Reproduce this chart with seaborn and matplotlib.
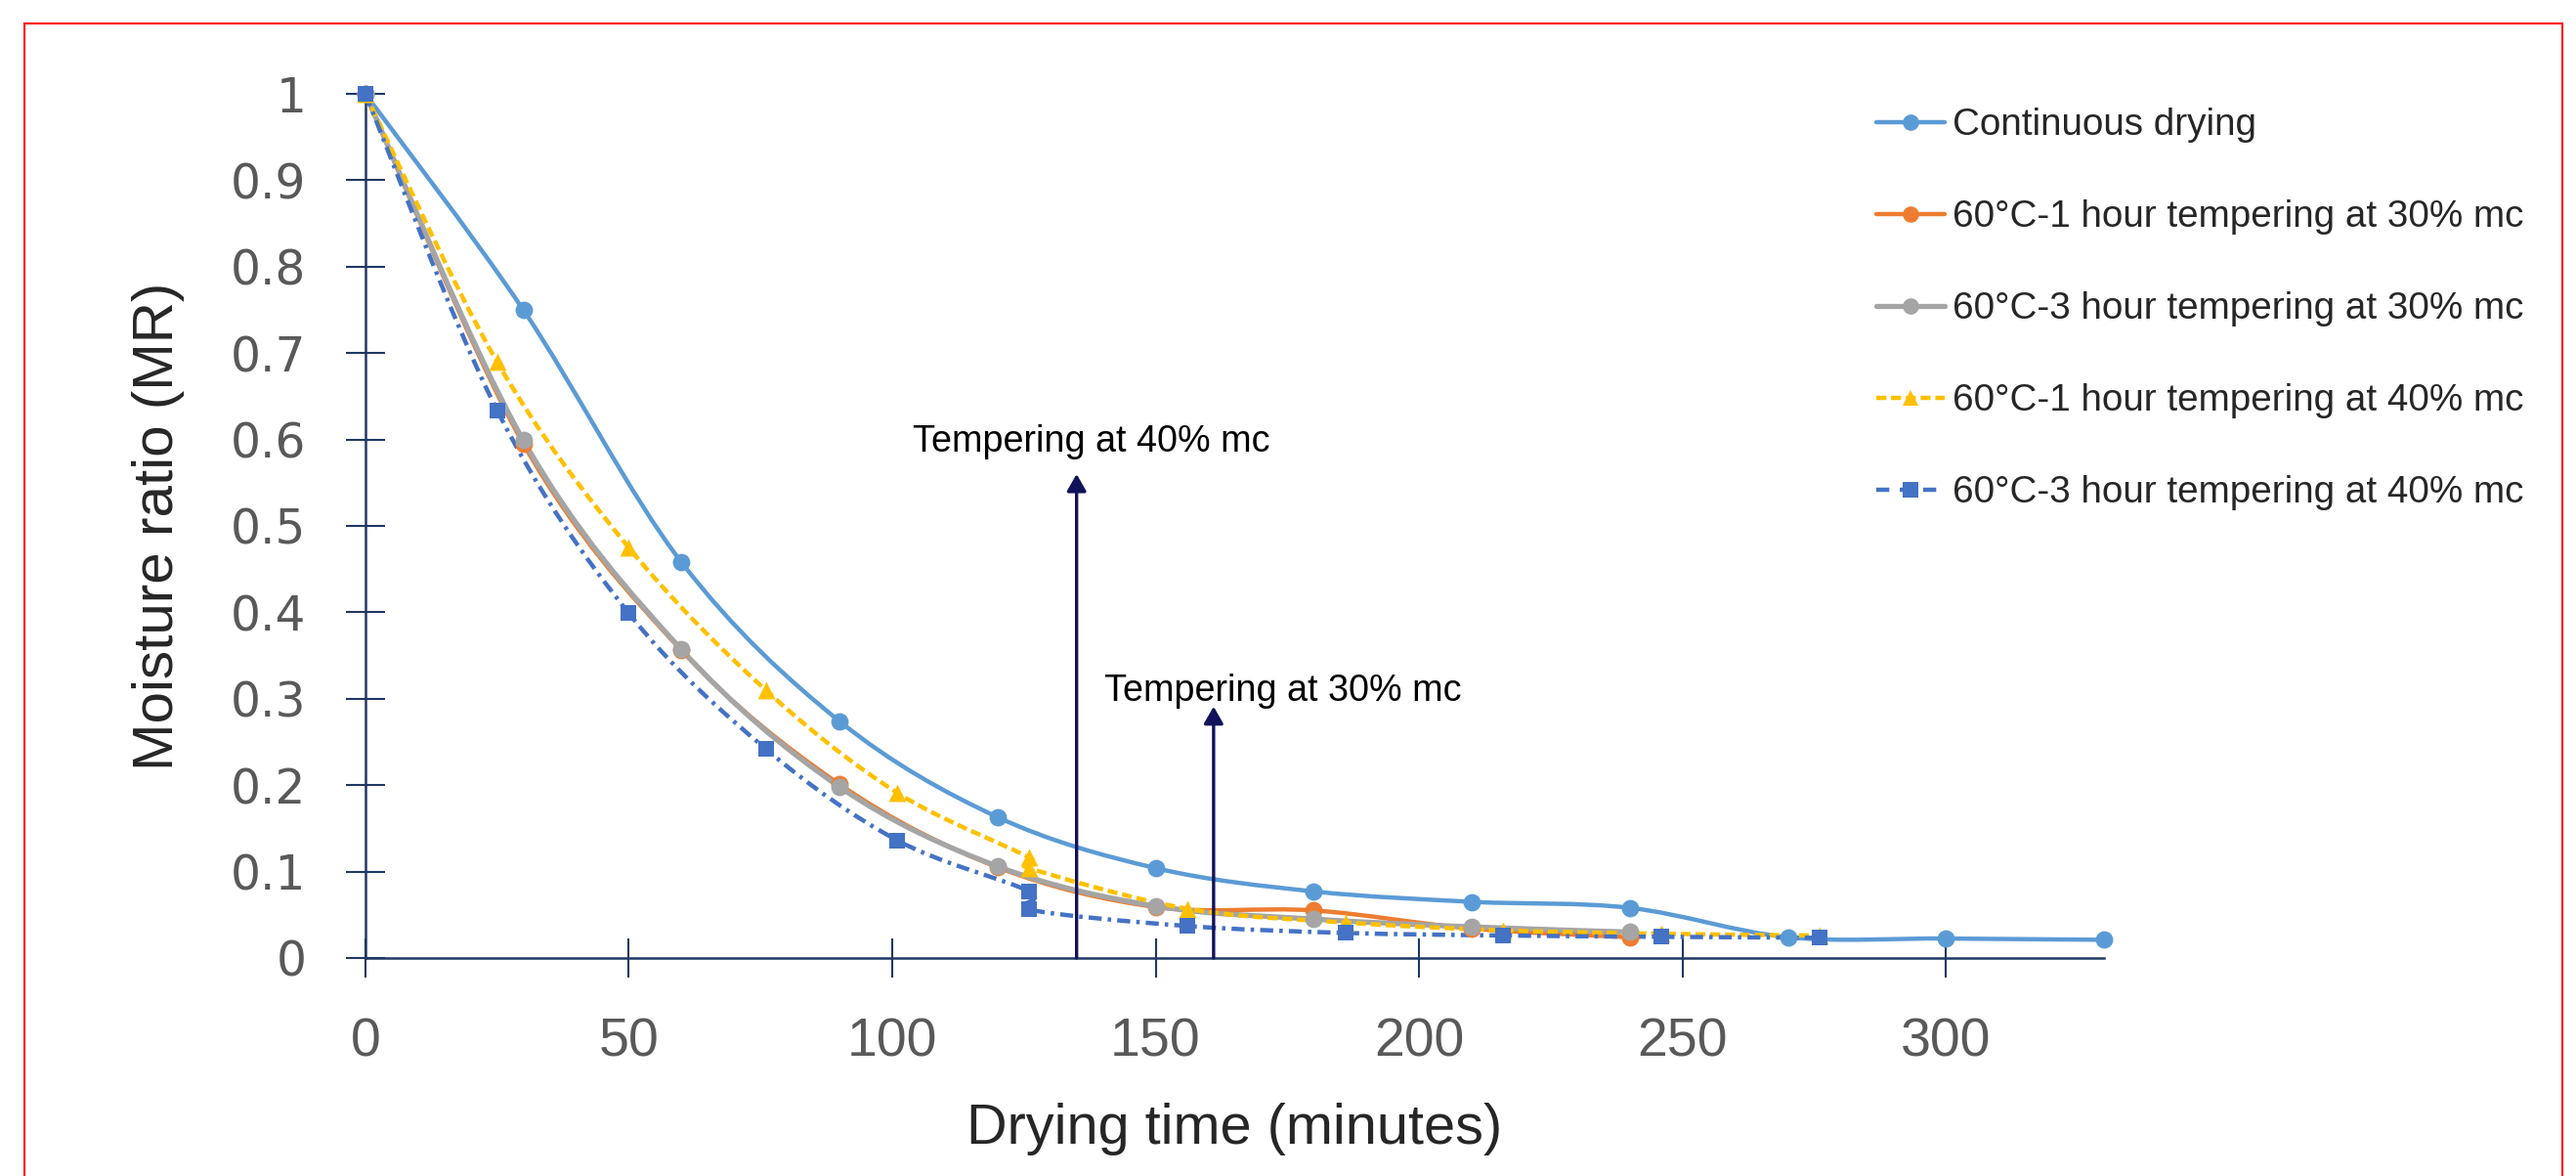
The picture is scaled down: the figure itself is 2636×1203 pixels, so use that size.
import numpy as np
import pandas as pd
import matplotlib
matplotlib.use('Agg')
import matplotlib.pyplot as plt
from matplotlib.path import Path
from matplotlib.patches import PathPatch, Rectangle
from matplotlib.lines import Line2D
import seaborn as sns

# dados
t_cont = [0, 30, 60, 90, 120, 150, 180, 210, 240, 270, 300, 330]
mr_cont = [1.0, 0.75, 0.458, 0.274, 0.163, 0.104, 0.077, 0.065, 0.058, 0.024, 0.0225, 0.021]

t_30 = [0, 30, 60, 90, 120, 150, 180, 210, 240]
mr_1h_30 = [1.0, 0.595, 0.356, 0.201, 0.105, 0.059, 0.055, 0.034, 0.024]
mr_3h_30 = [1.0, 0.599, 0.357, 0.198, 0.106, 0.060, 0.045, 0.036, 0.030]

t_40 = [0, 25, 50, 76, 101, 126, 126, 156, 186, 216, 246, 276]
mr_1h_40 = [1.0, 0.690, 0.475, 0.310, 0.191, 0.116, 0.104, 0.057, 0.041, 0.032, 0.028, 0.026]
mr_3h_40 = [1.0, 0.634, 0.399, 0.242, 0.136, 0.077, 0.056, 0.037, 0.029, 0.026, 0.0245, 0.0234]

nomes = ['Continuous drying',
         '60°C-1 hour tempering at 30% mc',
         '60°C-3 hour tempering at 30% mc',
         '60°C-1 hour tempering at 40% mc',
         '60°C-3 hour tempering at 40% mc']

setas_x = [135, 161]
setas_topo = [0.560, 0.291]
setas_texto = ['Tempering at 40% mc', 'Tempering at 30% mc']
texto_x = [137.8, 174.2]
texto_y = [0.586, 0.2975]

series = [
    (t_cont, mr_cont, '#5B9BD5', 'o', '-', 3.2),
    (t_30, mr_1h_30, '#ED7D31', 'o', '-', 3.2),
    (t_30, mr_3h_30, '#A5A5A5', 'o', '-', 3.8),
    (t_40, mr_1h_40, '#FFC000', '^', (0, (2.3, 1.1)), 3.2),
    (t_40, mr_3h_40, '#4472C4', 's', (0, (3.0, 1.4, 0.8, 1.4)), 3.2),
]

sns.set_style('white')
plt.rcParams['font.family'] = ['Liberation Sans', 'DejaVu Sans']


def curva_suave(xs, ys):
    # curva suavizada estilo Excel (bezier pelos pontos)
    p = np.column_stack([xs, ys]).astype(float)
    n = len(p)
    verts = [p[0]]
    codes = [Path.MOVETO]
    for i in range(n - 1):
        p0 = p[max(i - 1, 0)]
        p1 = p[i]
        p2 = p[i + 1]
        p3 = p[min(i + 2, n - 1)]
        verts += [p1 + (p2 - p0) / 6, p2 - (p3 - p1) / 6, p2]
        codes += [Path.CURVE4] * 3
    return Path(verts, codes)


fig = plt.figure(figsize=(26.36, 12.03), dpi=100)
ax = fig.add_axes([0.1418, 0.1854, 0.6750, 0.7348])

handles = []
for (xs, ys, cor, mk, ls, lw), nome in zip(series, nomes):
    ax.add_patch(PathPatch(curva_suave(xs, ys), facecolor='none', edgecolor=cor,
                           lw=lw, linestyle=ls, joinstyle='round', clip_on=False))
    df = pd.DataFrame({'t': xs, 'mr': ys})
    tam = 130 if mk == 's' else 165
    sns.scatterplot(data=df, x='t', y='mr', ax=ax, color=cor, marker=mk, s=tam,
                    linewidth=0, clip_on=False, zorder=3, legend=False)
    ls_leg = (0, (3.0, 2.4)) if mk == 's' else ls
    handles.append(Line2D([], [], color=cor, lw=lw, linestyle=ls_leg, marker=mk,
                          markersize=11 if mk == 's' else 12, markeredgewidth=0))

# setas de tempering
for sx, st, txt, tx, ty in zip(setas_x, setas_topo, setas_texto, texto_x, texto_y):
    ax.annotate('', xy=(sx, st), xytext=(sx, 0),
                arrowprops=dict(arrowstyle='-|>,head_length=0.35,head_width=0.2',
                                color='#12125A', lw=2.4, mutation_scale=30,
                                shrinkA=0, shrinkB=0), annotation_clip=False)
    ax.text(tx, ty, txt, ha='center', va='baseline', fontsize=27.2, color='black')

ax.set_xlim(0, 330)
ax.set_ylim(0, 1)
ax.set_xticks(np.arange(0, 301, 50))
ax.set_yticks(np.arange(0, 1.01, 0.1))
ax.yaxis.set_major_formatter(plt.FormatStrFormatter('%g'))

sns.despine(ax=ax)
for lado in ['left', 'bottom']:
    ax.spines[lado].set_color('#1F3864')
    ax.spines[lado].set_linewidth(1.8)

ax.tick_params(axis='both', direction='inout', length=28.8, width=1.5,
               color='#1F3864', labelcolor='#595959', pad=29,
               bottom=True, left=True)
for lbl in ax.get_yticklabels():
    lbl.set_fontfamily('DejaVu Sans')
    lbl.set_fontsize(35)
for lbl in ax.get_xticklabels():
    lbl.set_fontsize(40)

ax.set_xlabel('Drying time (minutes)', fontsize=41.5, labelpad=26)
ax.set_ylabel('Moisture ratio (MR)', fontsize=42, labelpad=34)

ax.legend(handles, nomes, loc='upper left', bbox_to_anchor=(0.7225, 0.921),
          bbox_transform=fig.transFigure, frameon=False, fontsize=27.8,
          labelspacing=1.5, handlelength=1.82, handletextpad=0.2, borderaxespad=0)

# moldura vermelha
fig.patches.append(Rectangle((25 / 2636, -0.05), (2622 - 25) / 2636, 1.05 - 24 / 1203,
                             transform=fig.transFigure, fill=False, edgecolor='#FF2020',
                             lw=1.6, zorder=10))

fig.savefig('out.png', dpi=100)
